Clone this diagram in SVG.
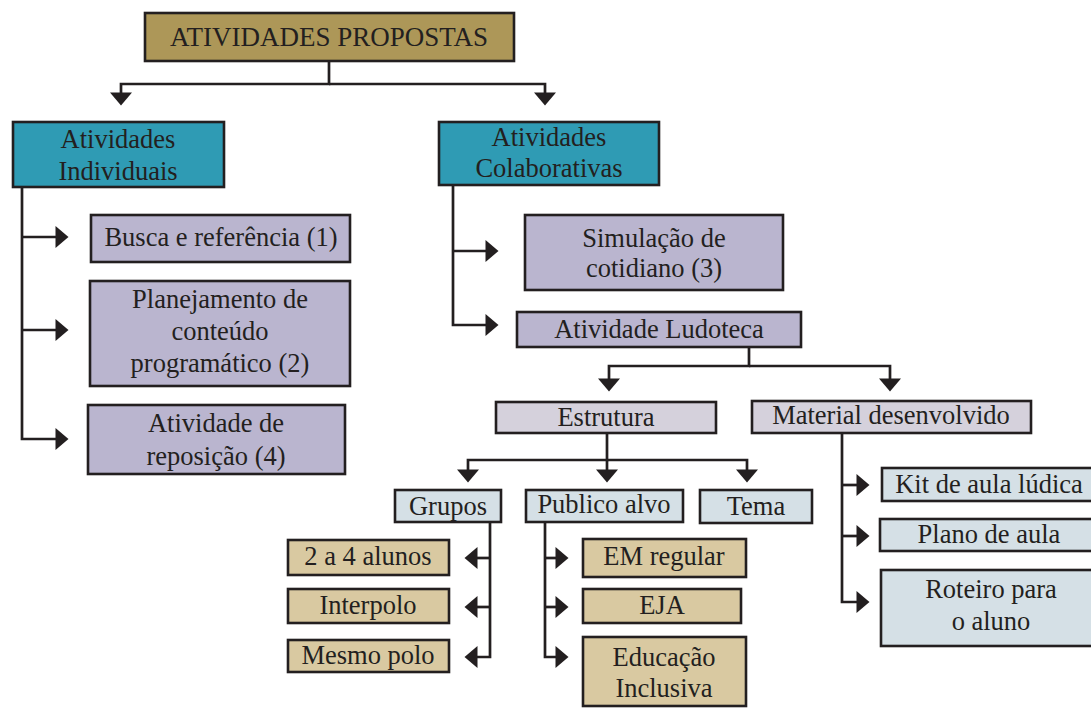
<svg xmlns="http://www.w3.org/2000/svg" width="1091" height="708" viewBox="0 0 1091 708">
<defs>
<style>
.box{stroke:#231f20;stroke-width:2.6}
.olive{fill:#ad9758}
.teal{fill:#2f9bb4}
.lav{fill:#bab5cf}
.grey{fill:#d5d1dc}
.blue{fill:#d5e0e6}
.tan{fill:#d9c9a1}
text{font-family:"Liberation Serif","Times New Roman",serif;font-size:26.5px;fill:#231f20;text-anchor:middle}
.con{fill:none;stroke:#231f20;stroke-width:2.7;marker-end:url(#ah)}
</style>
<marker id="ah" markerUnits="userSpaceOnUse" markerWidth="14" markerHeight="22" refX="0.5" refY="11" orient="auto" overflow="visible">
<path d="M0,0 L13,11 L0,22 Z" fill="#231f20"/>
</marker>
</defs>
<rect width="1091" height="708" fill="#ffffff"/>
<g id="connectors">
<path class="con" d="M329,61 V84 H121 V93"/>
<path class="con" d="M329,84 H545 V93"/>
<path class="con" d="M22,187 V439 H56"/>
<path class="con" d="M22,237 H56"/>
<path class="con" d="M22,330 H56"/>
<path class="con" d="M453,185 V325 H486"/>
<path class="con" d="M453,251 H486"/>
<path class="con" d="M749,347 V366 H609 V379"/>
<path class="con" d="M749,366 H890 V379"/>
<path class="con" d="M607,433 V460 H468 V470"/>
<path class="con" d="M607,460 V470"/>
<path class="con" d="M607,460 H747 V470"/>
<path class="con" d="M490,522 V657 H477"/>
<path class="con" d="M490,558 H477"/>
<path class="con" d="M490,607 H477"/>
<path class="con" d="M545,522 V657 H556"/>
<path class="con" d="M545,558 H556"/>
<path class="con" d="M545,607 H556"/>
<path class="con" d="M842,433 V602 H857"/>
<path class="con" d="M842,485 H857"/>
<path class="con" d="M842,536 H857"/>
</g>
<g id="atividades-propostas"><rect class="box olive" x="145" y="13" width="369" height="48"/><text x="329" y="46" style="font-size:27px">ATIVIDADES PROPOSTAS</text></g>
<g id="atividades-individuais"><rect class="box teal" x="13" y="122" width="211" height="65"/><text x="118" y="148">Atividades</text><text x="118" y="180">Individuais</text></g>
<g id="atividades-colaborativas"><rect class="box teal" x="439" y="122" width="220" height="63"/><text x="549" y="146">Atividades</text><text x="549" y="177">Colaborativas</text></g>
<g id="busca"><rect class="box lav" x="91" y="215" width="259" height="47"/><text x="221" y="246">Busca e referência (1)</text></g>
<g id="planejamento"><rect class="box lav" x="90" y="281" width="260" height="105"/><text x="220" y="308">Planejamento de</text><text x="220" y="340">conteúdo</text><text x="220" y="372">programático (2)</text></g>
<g id="reposicao"><rect class="box lav" x="88" y="405" width="257" height="69"/><text x="216" y="432">Atividade de</text><text x="216" y="465">reposição (4)</text></g>
<g id="simulacao"><rect class="box lav" x="525" y="215" width="258" height="75"/><text x="654" y="247">Simulação de</text><text x="654" y="277">cotidiano (3)</text></g>
<g id="ludoteca"><rect class="box lav" x="517" y="312" width="284" height="35"/><text x="659" y="338">Atividade Ludoteca</text></g>
<g id="estrutura"><rect class="box grey" x="496" y="402" width="220" height="31"/><text x="606" y="426">Estrutura</text></g>
<g id="material"><rect class="box grey" x="752" y="401" width="279" height="32"/><text x="891" y="424">Material desenvolvido</text></g>
<g id="grupos"><rect class="box blue" x="395" y="490" width="106" height="32"/><text x="448" y="515">Grupos</text></g>
<g id="publico"><rect class="box blue" x="526" y="490" width="157" height="32"/><text x="604" y="513">Publico alvo</text></g>
<g id="tema"><rect class="box blue" x="700" y="490" width="112" height="33"/><text x="756" y="515">Tema</text></g>
<g id="alunos"><rect class="box tan" x="288" y="540" width="161" height="35"/><text x="368" y="565">2 a 4 alunos</text></g>
<g id="interpolo"><rect class="box tan" x="288" y="589" width="161" height="34"/><text x="368" y="614">Interpolo</text></g>
<g id="mesmo-polo"><rect class="box tan" x="288" y="640" width="161" height="32"/><text x="368" y="664">Mesmo polo</text></g>
<g id="em-regular"><rect class="box tan" x="583" y="539" width="163" height="38"/><text x="664" y="565">EM regular</text></g>
<g id="eja"><rect class="box tan" x="583" y="589" width="158" height="34"/><text x="662" y="614">EJA</text></g>
<g id="educacao"><rect class="box tan" x="583" y="637" width="163" height="69"/><text x="664" y="666">Educação</text><text x="664" y="697">Inclusiva</text></g>
<g id="kit"><rect class="box blue" x="882" y="468" width="220" height="33"/><text x="989" y="493">Kit de aula lúdica</text></g>
<g id="plano"><rect class="box blue" x="880" y="519" width="222" height="32"/><text x="989" y="543">Plano de aula</text></g>
<g id="roteiro"><rect class="box blue" x="881" y="570" width="221" height="76"/><text x="991" y="598">Roteiro para</text><text x="991" y="630">o aluno</text></g>
</svg>
